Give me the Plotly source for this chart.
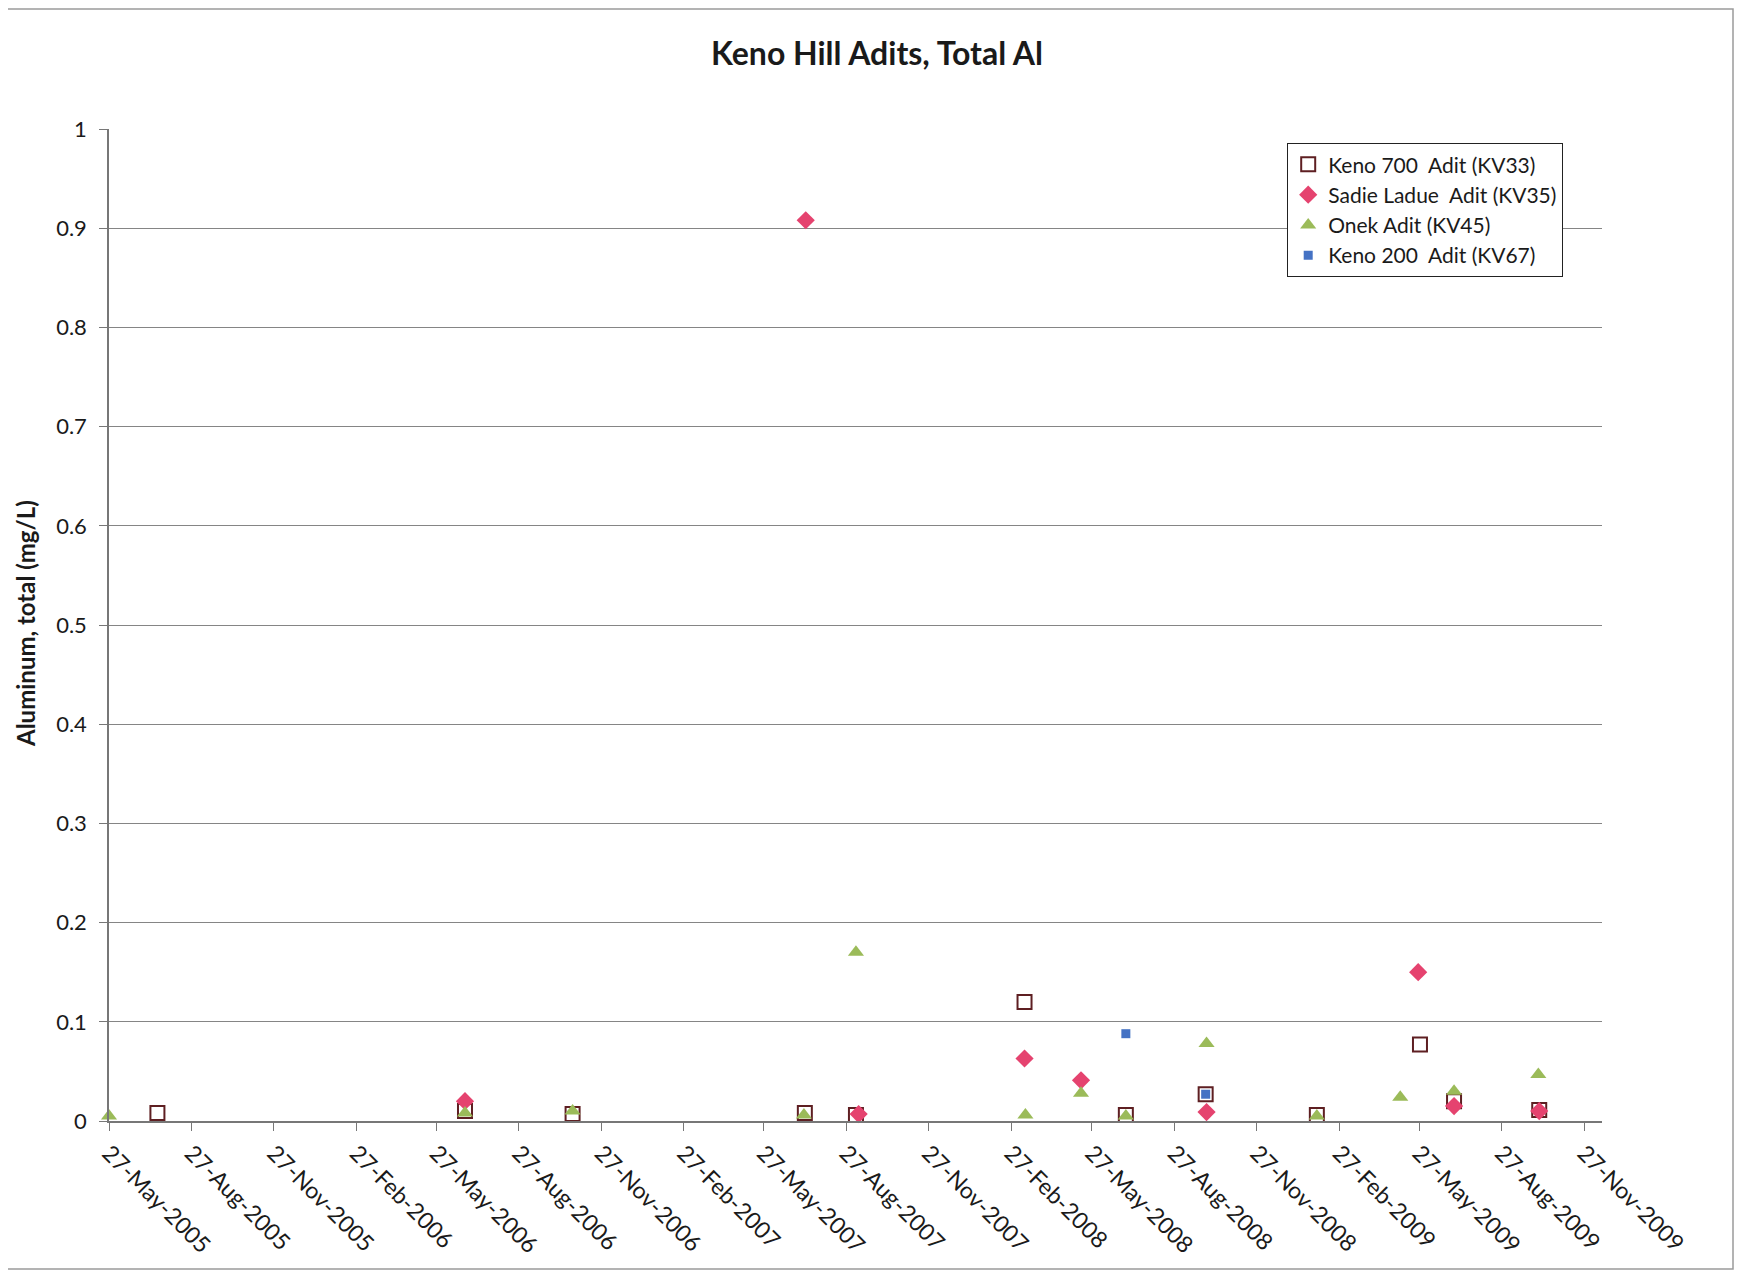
import plotly.graph_objects as go

# ---------------- data ----------------
kv33_dates = ["2005-07-20", "2006-06-28", "2006-10-26", "2007-07-12", "2007-09-07",
              "2008-03-13", "2008-07-04", "2008-10-01", "2009-02-02", "2009-05-28",
              "2009-07-05", "2009-10-08"]
kv33_vals = [0.008, 0.010, 0.007, 0.008, 0.006, 0.120, 0.006, 0.027, 0.006, 0.077, 0.020, 0.011]

kv35_dates = ["2006-06-28", "2007-07-13", "2007-09-10", "2008-03-13", "2008-05-15",
              "2008-10-02", "2009-05-26", "2009-07-05", "2009-10-08"]
kv35_vals = [0.020, 0.908, 0.007, 0.063, 0.041, 0.009, 0.150, 0.015, 0.010]

kv45_dates = ["2005-05-27", "2006-06-28", "2006-10-26", "2007-07-11", "2007-09-07",
              "2008-03-14", "2008-05-15", "2008-07-04", "2008-10-02", "2009-02-02",
              "2009-05-06", "2009-07-05", "2009-10-07"]
kv45_vals = [0.005, 0.008, 0.010, 0.006, 0.170, 0.006, 0.028, 0.005, 0.078, 0.005,
             0.024, 0.030, 0.047]

kv67_dates = ["2008-07-04", "2008-10-01"]
kv67_vals = [0.088, 0.027]

series_names = ["Keno 700  Adit (KV33)", "Sadie Ladue  Adit (KV35)",
                "Onek Adit (KV45)", "Keno 200  Adit (KV67)"]

tick_dates = ["2005-05-27", "2005-08-27", "2005-11-27", "2006-02-27", "2006-05-27",
              "2006-08-27", "2006-11-27", "2007-02-27", "2007-05-27", "2007-08-27",
              "2007-11-27", "2008-02-27", "2008-05-27", "2008-08-27", "2008-11-27",
              "2009-02-27", "2009-05-27", "2009-08-27", "2009-11-27"]
tick_labels = ["27-May-2005", "27-Aug-2005", "27-Nov-2005", "27-Feb-2006", "27-May-2006",
               "27-Aug-2006", "27-Nov-2006", "27-Feb-2007", "27-May-2007", "27-Aug-2007",
               "27-Nov-2007", "27-Feb-2008", "27-May-2008", "27-Aug-2008", "27-Nov-2008",
               "27-Feb-2009", "27-May-2009", "27-Aug-2009", "27-Nov-2009"]

title_text = "Keno Hill Adits, Total Al"
y_title = "Aluminum, total (mg/L)"

FONT = "Lato, 'Open Sans', sans-serif"

fig = go.Figure()
fig.add_trace(go.Scatter(x=kv33_dates, y=kv33_vals, mode="markers", name=series_names[0],
                         cliponaxis=False,
                         marker=dict(symbol="square-open", size=14, color="#5E1F22",
                                     line=dict(width=2, color="#5E1F22"))))
fig.add_trace(go.Scatter(x=kv35_dates, y=kv35_vals, mode="markers", name=series_names[1],
                         cliponaxis=False,
                         marker=dict(symbol="diamond", size=14, color="#E5436F")))
fig.add_trace(go.Scatter(x=kv45_dates, y=kv45_vals, mode="markers", name=series_names[2],
                         cliponaxis=False,
                         marker=dict(symbol="triangle-up", size=14, color="#9BBB59")))
fig.add_trace(go.Scatter(x=kv67_dates, y=kv67_vals, mode="markers", name=series_names[3],
                         cliponaxis=False,
                         marker=dict(symbol="square", size=9, color="#4472C4")))

W, H = 1747, 1273
OFF = 8  # page body margin
L, R, T, B = 109 - OFF, 145 + OFF, 129 - OFF, 152 + OFF
pw, ph = W - L - R, H - T - B

def px_x(px):
    return (px - OFF - L) / pw

def px_y(py):
    return (H - B - (py - OFF)) / ph

fig.update_layout(
    width=W, height=H,
    margin=dict(l=L, r=R, t=T, b=B),
    paper_bgcolor="white", plot_bgcolor="white",
    font=dict(family=FONT, color="#1a1a1a", size=20),
    showlegend=True,
    legend=dict(x=px_x(1287), y=px_y(143), xanchor="left", yanchor="top",
                bordercolor="#222222", borderwidth=1.2, bgcolor="white",
                font=dict(size=21, family=FONT, color="#1a1a1a"),
                itemwidth=30),
    xaxis=dict(type="date", range=["2005-05-27", "2009-12-17"],
               tickmode="array", tickvals=tick_dates, ticktext=tick_labels,
               tickangle=45, tickfont=dict(size=23, family=FONT, color="#1a1a1a"),
               showgrid=False, zeroline=False, showline=True, linecolor="#777777",
               linewidth=1.5, ticks="outside", ticklen=8, tickcolor="#777777"),
    yaxis=dict(range=[0, 1], dtick=0.1, tick0=0,
               tickfont=dict(size=22, family=FONT, color="#1a1a1a"),
               ticklabelstandoff=8,
               showgrid=True, gridcolor="#858585", gridwidth=1.3,
               zeroline=False, showline=True, linecolor="#777777", linewidth=1.5,
               ticks="outside", ticklen=8, tickcolor="#777777"),
    annotations=[
        dict(text="<b>" + title_text + "</b>", xref="paper", yref="paper",
             x=px_x(877), y=px_y(53), xanchor="center", yanchor="middle",
             showarrow=False, font=dict(size=32, family=FONT, color="#1a1a1a")),
        dict(text="<b>" + y_title + "</b>", xref="paper", yref="paper",
             x=px_x(25), y=px_y(624), xanchor="center", yanchor="middle",
             textangle=-90, showarrow=False,
             font=dict(size=24, family=FONT, color="#1a1a1a")),
    ],
    shapes=[
        dict(type="rect", xref="paper", yref="paper", layer="below",
             x0=px_x(6), x1=px_x(1733), y0=px_y(1269), y1=px_y(9),
             line=dict(color="#9a9a9a", width=1.5)),
    ],
)

fig.write_html("out.html")
